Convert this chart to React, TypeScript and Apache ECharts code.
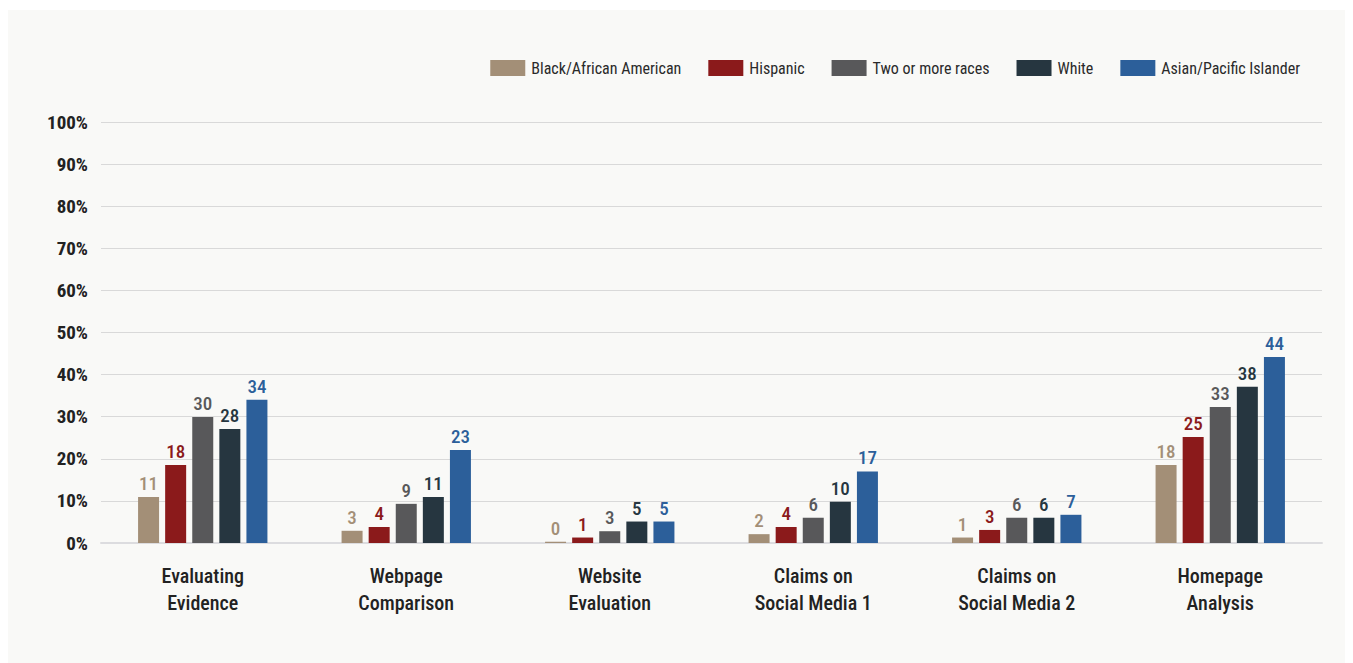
import React, { useEffect, useRef } from "react";
import * as echarts from "echarts";

const categories = [
  "Evaluating\nEvidence",
  "Webpage\nComparison",
  "Website\nEvaluation",
  "Claims on\nSocial Media 1",
  "Claims on\nSocial Media 2",
  "Homepage\nAnalysis",
];

const seriesNames = [
  "Black/African American",
  "Hispanic",
  "Two or more races",
  "White",
  "Asian/Pacific Islander",
];

const colors = ["#a38f77", "#8b1a1b", "#58585a", "#263640", "#2c5f9a"];

// bar heights
const blackValues = [10.9, 2.9, 0.3, 2.1, 1.3, 18.5];
const hispanicValues = [18.5, 3.8, 1.3, 3.8, 3.1, 25.2];
const twoMoreValues = [29.9, 9.3, 2.8, 6.0, 6.0, 32.3];
const whiteValues = [27.1, 10.9, 5.1, 9.8, 6.0, 37.1];
const asianValues = [34.0, 22.1, 5.1, 17.0, 6.7, 44.2];

// printed labels
const blackLabels = ["11", "3", "0", "2", "1", "18"];
const hispanicLabels = ["18", "4", "1", "4", "3", "25"];
const twoMoreLabels = ["30", "9", "3", "6", "6", "33"];
const whiteLabels = ["28", "11", "5", "10", "6", "38"];
const asianLabels = ["34", "23", "5", "17", "7", "44"];

const yTicks = [0, 10, 20, 30, 40, 50, 60, 70, 80, 90, 100];

const FONT = "'Roboto Condensed', 'Liberation Sans', sans-serif";

export default function App() {
  const ref = useRef<HTMLDivElement>(null);
  useEffect(() => {
    if (!ref.current) return;
    const chart = echarts.init(ref.current, undefined, { renderer: "svg" });
    const values = [blackValues, hispanicValues, twoMoreValues, whiteValues, asianValues];
    const labels = [blackLabels, hispanicLabels, twoMoreLabels, whiteLabels, asianLabels];
    chart.setOption({
      animation: false,
      backgroundColor: "#f9f9f7",
      textStyle: { fontFamily: FONT },
      legend: {
        right: 48,
        top: 45,
        itemWidth: 35,
        itemHeight: 16,
        itemGap: 27,
        icon: "rect",
        textStyle: { fontFamily: FONT, fontSize: 16, color: "#2a2a2a", padding: [0, 0, 0, 1] },
        data: seriesNames,
      },
      grid: { left: 93, right: 31, top: 112, bottom: 120 },
      xAxis: {
        type: "category",
        data: categories,
        axisTick: { show: false },
        axisLine: { lineStyle: { color: "#dcdcdf", width: 2 } },
        axisLabel: {
          fontFamily: FONT,
          fontSize: 20,
          color: "#222",
          lineHeight: 27,
          margin: 19,
          fontWeight: 500,
        },
      },
      yAxis: {
        type: "value",
        min: yTicks[0],
        max: yTicks[yTicks.length - 1],
        interval: 10,
        axisLine: { show: false },
        axisTick: { show: false },
        splitLine: { lineStyle: { color: "#d9d9d9", width: 1 } },
        axisLabel: {
          fontFamily: FONT,
          fontSize: 19,
          color: "#222",
          margin: 13,
          fontWeight: "bold",
          formatter: (v: number) => v + "%",
        },
      },
      series: seriesNames.map((name, i) => ({
        name,
        type: "bar",
        barWidth: 21,
        barGap: "29%",
        itemStyle: { color: colors[i] },
        data: values[i],
        label: {
          show: true,
          position: "top",
          distance: 4,
          fontFamily: FONT,
          fontSize: 19,
          fontWeight: 500,
          color: colors[i],
          formatter: (p: any) => labels[i][p.dataIndex],
        },
      })),
    });
    return () => chart.dispose();
  }, []);
  return <div ref={ref} style={{ width: 1345, height: 653, marginTop: 2 }} />;
}
